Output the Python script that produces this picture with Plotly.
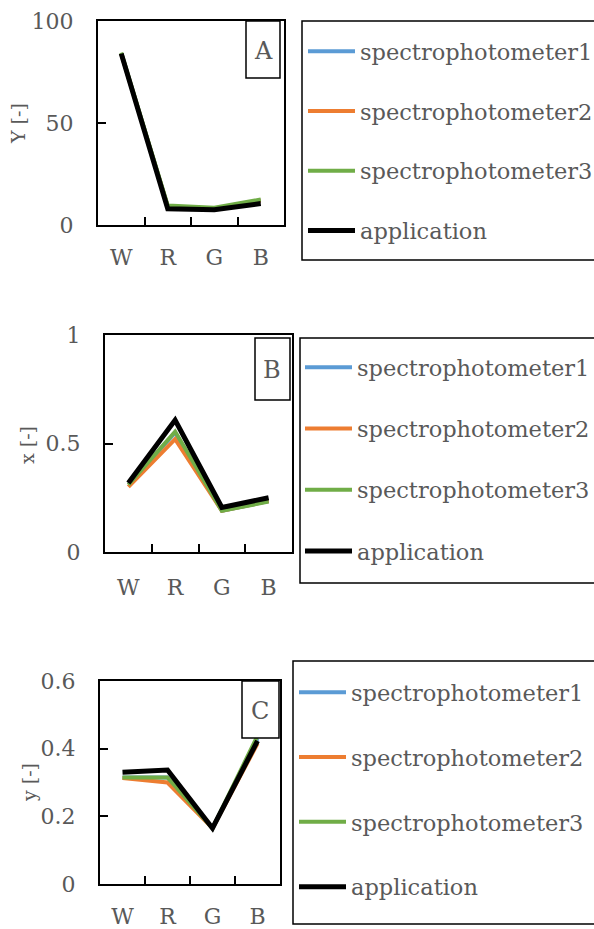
import plotly.graph_objects as go

W, H = 594, 929

categories = ["W", "R", "G", "B"]
series_names = ["spectrophotometer1", "spectrophotometer2", "spectrophotometer3", "application"]
series_colors = ["#5B9BD5", "#ED7D31", "#70AD47", "#000000"]
series_widths = [4, 4, 4, 5]

# Panel A: Y
Y_spec1 = [84, 9, 8, 12]
Y_spec2 = [84, 9, 8, 12]
Y_spec3 = [84.5, 9.5, 8.5, 12.5]
Y_app = [84, 8, 7.5, 10.5]

# Panel B: x
x_spec1 = [0.31, 0.55, 0.19, 0.235]
x_spec2 = [0.30, 0.52, 0.19, 0.235]
x_spec3 = [0.31, 0.555, 0.19, 0.232]
x_app = [0.318, 0.608, 0.205, 0.25]

# Panel C: y
y_spec1 = [0.315, 0.315, 0.165, 0.43]
y_spec2 = [0.313, 0.30, 0.165, 0.415]
y_spec3 = [0.315, 0.315, 0.165, 0.438]
y_app = [0.33, 0.337, 0.165, 0.423]

A_tickvals = [0, 50, 100]
A_ticktext = ["0", "50", "100"]
B_tickvals = [0, 0.5, 1]
B_ticktext = ["0", "0.5", "1"]
C_tickvals = [0, 0.2, 0.4, 0.6]
C_ticktext = ["0", "0.2", "0.4", "0.6"]

panel_titles = ["Y [-]", "x [-]", "y [-]"]
panel_labels = ["A", "B", "C"]

GRAY = "#595959"
FONT = "DejaVu Serif"


def px(x):
    return x / W


def py(y):
    return 1 - y / H


panels = [
    dict(data=[Y_spec1, Y_spec2, Y_spec3, Y_app], rng=[0, 100], tv=A_tickvals, tt=A_ticktext,
         dom=(98, 284, 21, 225), box=(246, 280, 21, 78), lab=(263, 51),
         title=(18, 124), leg=(302, 21, 260), legpos=(303, 30), gap=27.5),
    dict(data=[x_spec1, x_spec2, x_spec3, x_app], rng=[0, 1], tv=B_tickvals, tt=B_ticktext,
         dom=(105, 292, 335, 552), box=(255, 290, 338, 400), lab=(272, 370),
         title=(27, 445), leg=(300, 338, 583), legpos=(300, 346), gap=29),
    dict(data=[y_spec1, y_spec2, y_spec3, y_app], rng=[0, 0.6], tv=C_tickvals, tt=C_ticktext,
         dom=(100, 280, 681, 884), box=(242, 279, 681, 738), lab=(260, 711),
         title=(29, 783), leg=(293, 661, 924), legpos=(294, 671), gap=32.6),
]

fig = go.Figure()
shapes = []
annotations = []
layout = {}

for i, p in enumerate(panels):
    n = "" if i == 0 else str(i + 1)
    legname = "legend" + n
    for s in range(4):
        fig.add_trace(go.Scatter(
            x=categories, y=p["data"][s], mode="lines", name=series_names[s],
            line=dict(color=series_colors[s], width=series_widths[s]),
            xaxis="x" + n, yaxis="y" + n, legend=legname,
            legendgroup=f"g{i}_{s}",
        ))
    x0, x1, y0, y1 = p["dom"]
    layout["xaxis" + n] = dict(
        domain=[px(x0), px(x1)], anchor="y" + n, type="category",
        categoryorder="array", categoryarray=categories, range=[-0.5, 3.5],
        showline=True, mirror=True, linecolor="black", linewidth=2,
        ticks="inside", tickson="boundaries", ticklen=8, tickwidth=2, tickcolor="black",
        showgrid=False, zeroline=False, fixedrange=True,
        tickfont=dict(family=FONT, size=22, color=GRAY),
        ticklabelstandoff=15 if i == 1 else 12,
    )
    layout["yaxis" + n] = dict(
        domain=[py(y1), py(y0)], anchor="x" + n, range=p["rng"],
        tickvals=p["tv"], ticktext=p["tt"],
        showline=True, mirror=True, linecolor="black", linewidth=2,
        ticks="inside", ticklen=8, tickwidth=2, tickcolor="black",
        showgrid=False, zeroline=False, fixedrange=True,
        tickfont=dict(family=FONT, size=22, color=GRAY), ticklabelstandoff=18,
    )
    lx, ly = p["legpos"]
    layout[legname] = dict(
        x=px(lx), y=py(ly), xanchor="left", yanchor="top",
        bgcolor="rgba(0,0,0,0)", borderwidth=0,
        font=dict(family=FONT, size=22.5, color=GRAY),
        tracegroupgap=p["gap"], itemwidth=47,
    )
    # label box
    bx0, bx1, by0, by1 = p["box"]
    shapes.append(dict(type="rect", xref="paper", yref="paper",
                       x0=px(bx0), x1=px(bx1), y0=py(by1), y1=py(by0),
                       line=dict(color="black", width=1.5), fillcolor="white", layer="above"))
    annotations.append(dict(x=px(p["lab"][0]), y=py(p["lab"][1]), xref="paper", yref="paper",
                            xanchor="center", yanchor="middle",
                            text=panel_labels[i], showarrow=False,
                            font=dict(family=FONT, size=24, color=GRAY)))
    # legend box
    lgx, lgy0, lgy1 = p["leg"]
    shapes.append(dict(type="rect", xref="paper", yref="paper",
                       x0=px(lgx), x1=px(W + 10), y0=py(lgy1), y1=py(lgy0),
                       line=dict(color="black", width=1.5), layer="below"))
    # axis title
    annotations.append(dict(x=px(p["title"][0]), y=py(p["title"][1]), xref="paper", yref="paper",
                            xanchor="center", yanchor="middle",
                            text=panel_titles[i], showarrow=False, textangle=-90,
                            font=dict(family=FONT, size=19, color=GRAY)))

fig.update_layout(
    width=W, height=H, autosize=False,
    margin=dict(l=0, r=0, t=0, b=0, autoexpand=False),
    paper_bgcolor="white", plot_bgcolor="white",
    showlegend=True, shapes=shapes, annotations=annotations,
    **layout,
)

fig.write_html("out.html")
